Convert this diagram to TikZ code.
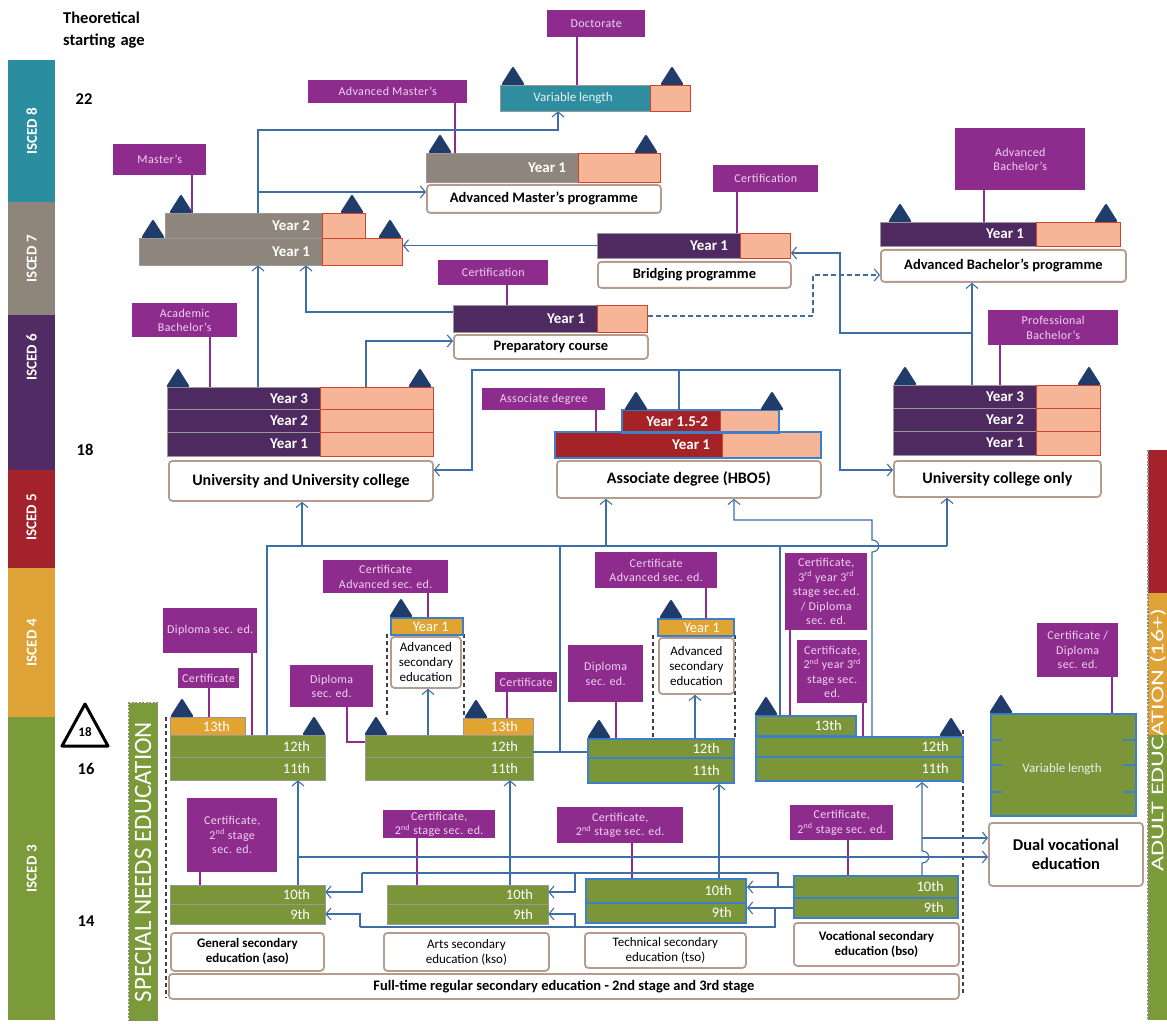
\documentclass[tikz,border=0pt]{standalone}
\usepackage{fontspec}
\setmainfont{Carlito}
\newfontfamily\labfont{Carlito}[LetterSpace=3.0]
\usetikzlibrary{arrows.meta}
\definecolor{labpur}{HTML}{8E2C8E}
\definecolor{labtxt}{HTML}{EFD2EF}
\definecolor{dpur}{HTML}{4F2A61}
\definecolor{gry}{HTML}{8E857C}
\definecolor{teal8}{HTML}{2E8E9F}
\definecolor{pch}{HTML}{F7B597}
\definecolor{pchb}{HTML}{D2432C}
\definecolor{dred}{HTML}{A52326}
\definecolor{grn}{HTML}{7A9638}
\definecolor{org}{HTML}{E2A431}
\definecolor{lnb}{HTML}{3D6EA6}
\definecolor{bbox}{HTML}{3E7FCC}
\definecolor{tric}{HTML}{1F3C6B}
\definecolor{boxb}{HTML}{B59C8E}
\definecolor{c8}{HTML}{2A8DA0}
\definecolor{c7}{HTML}{8E857B}
\definecolor{c6}{HTML}{512B63}
\definecolor{c5}{HTML}{A4222B}
\definecolor{c4}{HTML}{DFA237}
\definecolor{c3}{HTML}{7B9B3B}
\tikzset{
 lab/.style={fill=labpur, text=labtxt, font=\labfont\fontsize{12}{14.5}\selectfont, inner sep=0pt, align=center},
 labln/.style={draw=labpur, line width=1.2pt},
 conn/.style={draw=lnb, line width=1.1pt},
 arr/.style={conn, -{Straight Barb[length=5pt,width=12pt]}},
 dsh/.style={conn, dash pattern=on 5pt off 3pt, -{Straight Barb[length=5pt,width=12pt]}},
 barn/.style={inner sep=0pt, draw=black!40, line width=0.3pt},
 pchs/.style={fill=pch, draw=pchb, line width=0.9pt, inner sep=0pt},
 btxt/.style={text=white, font=\bfseries\fontsize{15}{16}\selectfont, inner sep=0pt},
 gtxt/.style={text=white, font=\fontsize{14.5}{15}\selectfont, inner sep=0pt},
 vtxt/.style={text=white!88!teal8, font=\fontsize{13}{14}\selectfont, inner sep=0pt},
 wbox/.style={fill=white, draw=boxb, line width=1.8pt, rounded corners=3.5pt, inner sep=0pt, align=center, font=\bfseries\fontsize{14.5}{16}\selectfont},
 big/.style={font=\bfseries\fontsize{16}{17}\selectfont},
 sm/.style={font=\bfseries\fontsize{13}{15}\selectfont},
 smr/.style={font=\fontsize{13}{15}\selectfont},
 bl/.style={draw=bbox, line width=2pt},
 isc/.style={inner sep=0pt},
 isct/.style={rotate=90, text=white, font=\bfseries\fontsize{15}{16}\selectfont},
 age/.style={font=\bfseries\fontsize{16.5}{18}\selectfont, inner sep=0pt},
 bigt/.style={rotate=90, text=white, font=\fontsize{25}{25}\selectfont},
 frame/.style={draw=black!75, line width=1.3pt, dash pattern=on 4pt off 3pt},
 sbar/.style={draw=black!45, dash pattern=on 2pt off 1.5pt, line width=1.2pt, inner sep=0pt},
}
\newcommand\R[7]{\node[#2, anchor=north west, minimum width={(#5)-(#3)}, minimum height={(#6)-(#4)}] (#1) at (#3,#4) {#7};}
\newcommand\Y[8]{%
 \node[barn, #2, anchor=north west, minimum width={(#5)-(#3)}, minimum height={(#7)-(#4)}] (#1) at (#3,#4) {};
 \node[pchs, anchor=north west, minimum width={(#6)-(#5)}, minimum height={(#7)-(#4)}] (#1p) at (#5,#4) {};
 \node[btxt, anchor=east] (#1t) at ([xshift=-12pt]#1.east) {#8};}
\newcommand\G[7]{%
 \node[barn, #2, anchor=north west, minimum width={(#5)-(#3)}, minimum height={(#6)-(#4)}] (#1) at (#3,#4) {};
 \node[gtxt, anchor=east] (#1t) at ([xshift=-15pt]#1.east) {#7};}
\newcommand\T[2]{\fill[tric, rounded corners=2pt] ({#1-12},#2) -- (#1,{#2-19}) -- ({#1+12},#2) -- cycle;}
\begin{document}
\begin{tikzpicture}[x=1pt,y=-1pt]
\useasboundingbox (0,0) rectangle (1167,1024);
\clip (0,0) rectangle (1167,1024);
\fill[white] (0,0) rectangle (1167,1024);
% ISCED column
\R{i8}{isc, fill=c8}{8}{60}{55}{202}{}
\R{i7}{isc, fill=c7}{8}{202}{55}{315}{}
\R{i6}{isc, fill=c6}{8}{315}{55}{470}{}
\R{i5}{isc, fill=c5}{8}{470}{55}{568}{}
\R{i4}{isc, fill=c4}{8}{568}{55}{717}{}
\R{i3}{isc, fill=c3}{8}{717}{55}{1020}{}
\node[isct] (i8t) at (i8.center) {ISCED 8};
\node[isct] (i7t) at (i7.center) {ISCED 7};
\node[isct] (i6t) at (31.5,357) {ISCED 6};
\node[isct] (i5t) at (31.5,517) {ISCED 5};
\node[isct] (i4t) at (i4.center) {ISCED 4};
\node[isct] (i3t) at (i3.center) {ISCED 3};
% ages
\node[age, anchor=north west] (th) at (63,12) {Theoretical};
\node[age, anchor=north west] (sa) at (63,34) {starting\hspace{5pt}age};
\node[age] (a22) at (84,99) {22};
\node[age] (a18) at (85,450) {18};
\node[age] (a16) at (86,769) {16};
\node[age] (a14) at (86,921) {14};
\draw[black, line width=3pt, line join=round] (62,746) -- (85,704) -- (108,746) -- cycle;
\node[font=\bfseries\fontsize{13}{13}\selectfont, inner sep=0pt] (w18) at (85,732) {18};
% special needs / adult
\R{spn}{sbar, fill=c3}{128}{702}{157}{1020}{}
\node[bigt] (spnt) at (143,862) {SPECIAL NEEDS EDUCATION};
\R{ad5}{isc, fill=c5}{1148}{450}{1200}{593}{}
\R{ad4}{isc, fill=c4}{1148}{593}{1200}{735}{}
\R{ad3}{isc, fill=c3}{1148}{735}{1200}{1020}{}
\draw[sbar] (ad5.north west) -- (ad3.south west);
\node[rotate=90, text=white, font=\fontsize{18}{18}\selectfont, inner sep=0pt] (adt) at (1158,740) {\scalebox{1.45}[1]{ADULT EDUCATION (16+)}};
% dashed frames
\draw[frame] (166,717) -- (166,998);
\draw[frame] (963,730) -- (963,995);
\draw[frame] (387,634) -- (387,718);
\draw[frame] (464,634) -- (464,718);
\draw[frame] (653,635) -- (653,737);
\draw[frame] (735,635) -- (735,737);
% Doctorate
\R{docL}{lab}{547}{10}{645}{37}{Doctorate}
\Y{docB}{fill=teal8}{500}{85}{650}{690}{111}{}
\node[vtxt] (docBt) at (573,98) {Variable length};
\T{513}{85} \T{672}{85}
% Advanced Master
\R{amL}{lab}{308}{80}{467}{103}{Advanced Master’s}
\Y{amB}{fill=gry}{426}{153}{578}{660}{182}{Year 1}
\R{amBox}{wbox}{426}{184}{660}{212}{Advanced Master’s programme}
\T{440}{153} \T{646}{153}
% Master
\R{masL}{lab}{113}{144}{206}{175}{Master’s}
\Y{masY2}{fill=gry}{165}{213}{322}{365}{238}{Year 2}
\Y{masY1}{fill=gry}{139}{238}{322}{402}{265}{Year 1}
\T{181}{213} \T{352}{213} \T{153}{238} \T{390}{238}
% Bridging
\R{brL}{lab}{713}{165}{818}{192}{Certification}
\Y{brB}{fill=dpur}{597}{233}{740}{790}{258}{Year 1}
\R{brBox}{wbox}{597}{261}{790}{287}{Bridging programme}
% Preparatory
\R{prL}{lab}{438}{260}{548}{285}{Certification}
\Y{prB}{fill=dpur}{453}{305}{597}{647}{332}{Year 1}
\R{prBox}{wbox}{453}{334}{647}{358}{Preparatory course}
% Advanced Bachelor
\R{abL}{lab}{955}{128}{1085}{190}{Advanced\\Bachelor’s}
\Y{abB}{fill=dpur}{880}{222}{1036}{1120}{246}{Year 1}
\R{abBox}{wbox}{880}{249}{1125}{281}{Advanced Bachelor’s programme}
\T{900}{222} \T{1106}{222}
% University
\R{acL}{lab}{132}{303}{237}{337}{Academic\\Bachelor’s}
\Y{uY3}{fill=dpur}{167}{387}{320}{433}{409}{Year 3}
\Y{uY2}{fill=dpur}{167}{409}{320}{433}{432}{Year 2}
\Y{uY1}{fill=dpur}{167}{432}{320}{433}{456}{Year 1}
\R{uBox}{wbox, big}{168}{460}{432}{500}{University and University college}
\T{178}{387} \T{420}{387}
% University college only
\R{pbL}{lab}{988}{310}{1118}{345}{Professional\\Bachelor’s}
\Y{ucY3}{fill=dpur}{893}{385}{1036}{1100}{408}{Year 3}
\Y{ucY2}{fill=dpur}{893}{408}{1036}{1100}{431}{Year 2}
\Y{ucY1}{fill=dpur}{893}{431}{1036}{1100}{455}{Year 1}
\R{ucBox}{wbox, big}{893}{460}{1100}{496}{University college only}
\T{905}{385} \T{1089}{385}
% Associate degree
\R{adL}{lab}{482}{388}{605}{410}{Associate degree}
\Y{adY2}{fill=dred}{622}{410}{720}{778}{432}{Year 1.5-2}
\Y{adY1}{fill=dred}{555}{432}{722}{820}{457}{Year 1}
\draw[bl] (adY2.north west) rectangle (adY2p.south east);
\draw[bl] (adY1.north west) rectangle (adY1p.south east);
\R{adBox}{wbox, big}{556}{460}{820}{497}{Associate degree (HBO5)}
\T{636}{410} \T{772}{410}
% aso
\R{asoD}{lab}{163}{608}{257}{653}{Diploma sec. ed.}
\R{asoC}{lab}{178}{668}{239}{688}{Certificate}
\G{aso13}{fill=org}{170}{717}{245}{735}{13th}
\G{aso12}{fill=grn}{170}{735}{325}{757}{12th}
\G{aso11}{fill=grn}{170}{757}{325}{780}{11th}
\T{182}{717} \T{314}{735}
\R{aso2}{lab}{187}{798}{277}{872}{Certificate,\\2\textsuperscript{nd} stage\\sec. ed.}
\G{aso10}{fill=grn}{170}{885}{325}{904}{10th}
\G{aso9}{fill=grn}{170}{904}{325}{924}{9th}
\R{asoBox}{wbox, sm}{170}{932}{323}{970}{General secondary\\education (aso)}
% advanced sec 1
\R{as1L}{lab}{323}{560}{448}{593}{Certificate\\Advanced sec. ed.}
\G{as1Y}{fill=org, bl}{390}{617}{462}{634}{Year 1}
\R{as1Box}{wbox, smr}{390}{636}{460}{687}{Advanced\\secondary\\education}
\T{401}{617}
% kso
\R{ksoD}{lab}{290}{665}{373}{707}{Diploma\\sec. ed.}
\R{ksoC}{lab}{495}{672}{557}{692}{Certificate}
\G{kso13}{fill=org}{463}{718}{533}{735}{13th}
\G{kso12}{fill=grn}{365}{735}{533}{757}{12th}
\G{kso11}{fill=grn}{365}{757}{533}{780}{11th}
\T{476}{718} \T{376}{735}
\R{kso2}{lab}{383}{810}{495}{838}{Certificate,\\2\textsuperscript{nd} stage sec. ed.}
\G{kso10}{fill=grn}{387}{885}{548}{904}{10th}
\G{kso9}{fill=grn}{387}{904}{548}{924}{9th}
\R{ksoBox}{wbox, smr}{383}{932}{548}{970}{Arts secondary\\education (kso)}
% advanced sec 2
\R{as2L}{lab}{595}{552}{717}{588}{Certificate\\Advanced sec. ed.}
\G{as2Y}{fill=org, bl}{657}{618}{733}{635}{Year 1}
\R{as2Box}{wbox, smr}{658}{637}{733}{693}{Advanced\\secondary\\education}
\T{671}{618}
% tso
\R{tsoD}{lab}{568}{645}{643}{702}{Diploma\\sec. ed.}
\G{tso12}{fill=grn, bl}{587}{738}{733}{757}{12th}
\G{tso11}{fill=grn, bl}{587}{757}{733}{782}{11th}
\T{599}{738}
\R{tso2}{lab}{557}{807}{683}{843}{Certificate,\\2\textsuperscript{nd} stage sec. ed.}
\G{tso10}{fill=grn, bl}{585}{878}{745}{902}{10th}
\G{tso9}{fill=grn, bl}{585}{902}{745}{922}{9th}
\R{tsoBox}{wbox, smr}{584}{932}{745}{967}{Technical secondary\\education (tso)}
% bso
\R{bsoA}{lab}{785}{553}{867}{630}{Certificate,\\3\textsuperscript{rd} year 3\textsuperscript{rd}\\stage sec.ed.\\/ Diploma\\sec. ed.}
\R{bsoB}{lab}{797}{640}{867}{703}{Certificate,\\2\textsuperscript{nd} year 3\textsuperscript{rd}\\stage sec.\\ed.}
\G{bso13}{fill=grn, bl}{755}{715}{855}{735}{13th}
\G{bso12}{fill=grn, bl}{755}{736}{962}{756}{12th}
\G{bso11}{fill=grn, bl}{755}{756}{962}{780}{11th}
\T{766}{715} \T{951}{736}
\R{bso2}{lab}{790}{805}{893}{840}{Certificate,\\2\textsuperscript{nd} stage sec. ed.}
\G{bso10}{fill=grn, bl}{793}{875}{957}{897}{10th}
\G{bso9}{fill=grn, bl}{793}{897}{957}{917}{9th}
\R{bsoBox}{wbox, sm}{793}{922}{958}{965}{Vocational secondary\\education (bso)}
\R{ftBox}{wbox, font=\bfseries\fontsize{14.5}{16}\selectfont}{168}{973}{958}{998}{Full-time regular secondary education - 2nd stage and 3rd stage}
% dual
\R{dvL}{lab}{1037}{623}{1118}{677}{Certificate /\\Diploma\\sec. ed.}
\R{dvB}{barn, fill=grn, bl}{990}{713}{1135}{815}{}
\node[vtxt] (dvBt) at (1062,769) {Variable length};
\foreach \yy in {740,765,792}{\draw[draw=bbox, line width=2pt] (990,\yy) -- (1002,\yy); \draw[draw=bbox, line width=2pt] (1123,\yy) -- (1135,\yy);}
\R{dvBox}{wbox, font=\bfseries\fontsize{16.5}{19}\selectfont}{988}{822}{1142}{885}{Dual vocational\\education}
\T{1001}{713}
% label lines
\draw[labln] (docL.south -| 577,0) -- (docB.north -| 577,0);
\draw[labln] (amL.south -| 455,0) -- (amB.north -| 455,0);
\draw[labln] (masL.south -| 192,0) -- (masY2.north -| 192,0);
\draw[labln] (brL.south -| 737,0) -- (brB.north -| 737,0);
\draw[labln] (prL.south -| 507,0) -- (prB.north -| 507,0);
\draw[labln] (abL.south -| 984,0) -- (abB.north -| 984,0);
\draw[labln] (acL.south -| 210,0) -- (uY3.north -| 210,0);
\draw[labln] (pbL.south -| 1000,0) -- (ucY3.north -| 1000,0);
\draw[labln] (adL.south -| 596,0) -- (adY1.north -| 596,0);
\draw[labln] (asoC.south -| 209,0) -- (aso13.north -| 209,0);
\draw[labln] (asoD.south -| 252,0) -- (aso12.north -| 252,0);
\draw[labln] (aso2.south -| 200,0) -- (aso10.north -| 200,0);
\draw[labln] (as1L.south -| 428,0) -- (as1Y.north -| 428,0);
\draw[labln] (ksoD.south -| 347,0) -- (347,742) -- (kso12.west |- 0,742);
\draw[labln] (ksoC.south -| 507,0) -- (kso13.north -| 507,0);
\draw[labln] (kso2.south -| 417,0) -- (kso10.north -| 417,0);
\draw[labln] (as2L.south -| 706,0) -- (as2Y.north -| 706,0);
\draw[labln] (tsoD.south -| 616,0) -- (tso12.north -| 616,0);
\draw[labln] (tso2.south -| 632,0) -- (tso10.north -| 632,0);
\draw[labln] (bsoA.south -| 790,0) -- (bso13.north -| 790,0);
\draw[labln] (bsoB.south -| 863,0) -- (bso12.north -| 863,0);
\draw[labln] (bso2.south -| 848,0) -- (bso10.north -| 848,0);
\draw[labln] (dvL.south -| 1112,0) -- (dvB.north -| 1112,0);
% upper connectors
\draw[arr] (masY2.north -| 258,0) -- (258,130) -- (558,130) -- (docB.south -| 558,0);
\draw[arr] (258,192) -- (amBox.west |- 0,192);
\draw[arr] (uY3.north -| 258,0) -- (masY1.south -| 258,0);
\draw[arr] (prB.west |- 0,312) -- (306,312) -- (masY1.south -| 306,0);
\draw[arr] (uY3p.north -| 366,0) -- (366,341) -- (prBox.west |- 0,341);
\draw[arr] (brB.west) -- (masY1p.east |- brB.west);
\draw[dsh] (prBp.east |- 0,316) -- (813,316) -- (813,275) -- (abBox.west |- 0,275);
\draw[arr] (ucY3.north -| 972,0) -- (abBox.south -| 972,0);
\draw[arr] (972,333) -- (840,333) -- (840,253) -- (brBp.east |- 0,253);
\draw[arr] (adY2.north -| 679,0) -- (679,370) -- (472,370) -- (472,470) -- (uBox.east |- 0,470);
\draw[arr] (679,370) -- (840,370) -- (840,470) -- (ucBox.west |- 0,470);
% lower connectors
\draw[conn] (aso12.north -| 267,0) -- (267,546) -- (947,546);
\draw[arr] (302,546) -- (uBox.south -| 302,0);
\draw[arr] (606,546) -- (adBox.south -| 606,0);
\draw[arr] (947,546) -- (ucBox.south -| 947,0);
\draw[conn] (kso12.east |- 0,752) -- (tso12.west |- 0,752);
\draw[conn] (560,752) -- (560,546);
\draw[conn] (bso13.north -| 780,0) -- (780,546);
\draw[arr] (bso12.north -| 872,0) -- (872,552) .. controls (881,552) and (881,540) .. (872,540) -- (872,520) -- (734,520) -- (adBox.south -| 734,0);
\draw[arr] (kso12.north -| 428,0) -- (as1Box.south -| 428,0);
\draw[arr] (tso12.north -| 695,0) -- (as2Box.south -| 695,0);
\draw[arr] (aso10.north -| 298,0) -- (aso11.south -| 298,0);
\draw[arr] (298,857) -- (dvBox.west |- 0,857);
\draw[arr] (kso10.north -| 510,0) -- (kso11.south -| 510,0);
\draw[arr] (tso10.north -| 719,0) -- (tso11.south -| 719,0);
\draw[arr] (bso10.north -| 922,0) -- (922,863) .. controls (931,863) and (931,851) .. (922,851) -- (bso11.south -| 922,0);
\draw[arr] (922,838) -- (dvBox.west |- 0,838);
\draw[arr] (bso10.west) -- (tso10.east |- bso10.west);
\draw[conn] (778,886) -- (778,873) -- (362,873);
\draw[arr] (362,873) -- (362,892) -- (aso10.east |- 0,892);
\draw[arr] (575,873) -- (575,892) -- (kso10.east |- 0,892);
\draw[arr] (bso9.west) -- (tso9.east |- bso9.west);
\draw[conn] (775,907) -- (775,927) -- (360,927);
\draw[arr] (360,927) -- (360,914) -- (aso9.east |- 0,914);
\draw[arr] (575,927) -- (575,914) -- (kso9.east |- 0,914);
\end{tikzpicture}
\end{document}
